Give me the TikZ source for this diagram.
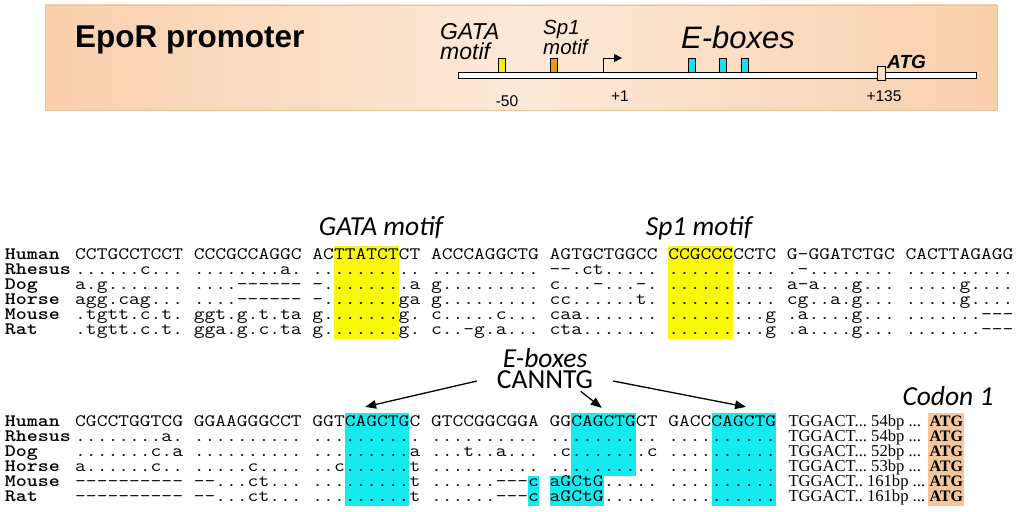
\documentclass[tikz,border=0pt]{standalone}
\usepackage{fontspec}
\usepackage{graphicx}
\usepackage{tikz}
\usetikzlibrary{positioning,calc,fit,backgrounds,arrows.meta}

\newfontfamily\arialfont{Liberation Sans}
\newfontfamily\calibrifont{Carlito}
\newfontfamily\timesfont{Liberation Serif}

\definecolor{boxEdge}{RGB}{238,192,152}
\definecolor{boxPeach}{RGB}{249,208,172}
\definecolor{boxLight}{RGB}{253,233,216}
\definecolor{markYellow}{RGB}{245,240,0}
\definecolor{markOrange}{RGB}{236,152,24}
\definecolor{markCyan}{RGB}{25,225,235}
\definecolor{markAtg}{RGB}{248,222,196}
\definecolor{hlYellow}{RGB}{252,248,10}
\definecolor{hlCyan}{RGB}{20,235,240}
\definecolor{hlCodon}{RGB}{245,198,155}

\newcommand{\seqfont}{\fontsize{17.45}{18}\selectfont\ttfamily\frenchspacing}
\newcommand{\wide}[1]{\scalebox{1.2}[1]{#1}}

\tikzstyle{seqrow}=[inner sep=0, text height=10.7pt, text depth=4pt, font=\seqfont]
\tikzstyle{species}=[inner sep=0, text height=10.7pt, text depth=4pt, text width=70pt, align=left, font=\seqfont\bfseries]
\tikzstyle{tailtext}=[inner sep=0, text height=10.7pt, text depth=4pt, font=\timesfont\fontsize{16.6}{17}\selectfont\frenchspacing]
\tikzstyle{codon}=[inner sep=0, text height=10.7pt, text depth=4pt, font=\timesfont\bfseries\fontsize{16}{16}\selectfont]
\tikzstyle{hlbox}=[inner sep=0, draw=none]
\tikzstyle{marker}=[draw, line width=0.6pt, inner sep=0, minimum width=7pt, minimum height=14pt, anchor=south]
\tikzstyle{motiflabel}=[inner sep=0, font=\calibrifont\itshape\fontsize{27.5}{21}\selectfont]
\tikzstyle{maplabel}=[inner sep=0, anchor=base, font=\arialfont\fontsize{15.5}{16}\selectfont]
\tikzstyle{eboxarrow}=[line width=1.3pt, -{Triangle[length=11pt,width=8.5pt]}]

\begin{document}
\begin{tikzpicture}[x=1pt, y=-1pt, node distance=0pt]
	\useasboundingbox (0,0) rectangle (1024,511);

	%%% header, promoter map
	\node[draw=boxEdge, line width=0.8pt, left color=boxPeach, right color=boxPeach, middle color=boxLight,
		minimum width=952pt, minimum height=105pt] (promoterBox) at (521,57.5) {};
	\node[anchor=base west, inner sep=0, font=\arialfont\bfseries\fontsize{31.5}{32}\selectfont] (promTitle) at (75,48) {EpoR promoter};

	\node[draw, fill=white, line width=0.7pt, inner sep=0, minimum width=518pt, minimum height=6pt] (promBar) at (717,75.5) {};

	\node[marker, fill=markYellow] (gataMark) at (501.5,72.5) {};
	\node[marker, fill=markOrange] (sp1Mark) at (553.5,72.5) {};
	\node[marker, fill=markCyan] (eboxMarkA) at (691.5,72.5) {};
	\node[marker, fill=markCyan] (eboxMarkB) at (722.5,72.5) {};
	\node[marker, fill=markCyan] (eboxMarkC) at (744.5,72.5) {};
	\node[draw, fill=markAtg, line width=0.6pt, inner sep=0, minimum width=8pt, minimum height=14pt] (atgMark) at (881,73) {};

	% transcription start
	\coordinate (tssFoot) at (603,72.5);
	\coordinate (tssTip) at (622,58);
	\draw[line width=0.8pt, -{Triangle[length=8pt,width=8pt]}] (tssFoot) |- (tssTip);

	\node[anchor=north west, inner sep=0, align=left, font=\arialfont\itshape\fontsize{23}{20}\selectfont] (gataMapLabel) at (440,23) {GATA\\motif};
	\node[anchor=north west, inner sep=0, align=left, font=\arialfont\itshape\fontsize{20.5}{18}\selectfont] (sp1MapLabel) at (543,20) {Sp1\\motif};
	\node[inner sep=0, font=\arialfont\itshape\fontsize{31}{31}\selectfont] (eboxMapLabel) at (738,37) {E-boxes};
	\node[anchor=base west, inner sep=0, font=\arialfont\bfseries\itshape\fontsize{19}{19}\selectfont] (atgMapLabel) at (887,68) {ATG};

	\node[maplabel] (posMinus50) at (507,106.5) {-50};
	\node[maplabel] (posPlus1) at (620,101.5) {+1};
	\node[maplabel] (posPlus135) at (884,101.5) {+135};

	%%% first alignment block
	\node[motiflabel, anchor=base] (gataLabel) at (381,235) {GATA motif};
	\node[motiflabel, anchor=base] (sp1Label) at (699,235) {Sp1 motif};

	\node[seqrow, anchor=base west] (humanUp) at (75,259) {\wide{CCTGCCTCCT CCCGCCAGGC ACTTATCTCT ACCCAGGCTG AGTGCTGGCC CCGCCCCCTC G-GGATCTGC CACTTAGAGG}};
	\node[seqrow, below=of humanUp] (rhesusUp) {\wide{......c... ........a. .......... .......... -{}-.ct..... .......... .-........ ..........}};
	\node[seqrow, below=of rhesusUp] (dogUp) {\wide{a.g....... ....-{}-{}-{}-{}-{}- -........a g......... c...-...-. .......... a-a...g... .....g....}};
	\node[seqrow, below=of dogUp] (horseUp) {\wide{agg.cag... ....-{}-{}-{}-{}-{}- -.......ga g......... cc......t. .......... cg..a.g... .....g....}};
	\node[seqrow, below=of horseUp] (mouseUp) {\wide{.tgtt.c.t. ggt.g.t.ta g.......g. c.....c... caa....... .........g .a....g... .......-{}-{}-}};
	\node[seqrow, below=of mouseUp] (ratUp) {\wide{.tgtt.c.t. gga.g.c.ta g.......g. c..-g.a... cta....... .........g .a....g... .......-{}-{}-}};

	\node[species, left=of humanUp] (humanUpName) {\wide{Human}};
	\node[species, left=of rhesusUp] (rhesusUpName) {\wide{Rhesus}};
	\node[species, left=of dogUp] (dogUpName) {\wide{Dog}};
	\node[species, left=of horseUp] (horseUpName) {\wide{Horse}};
	\node[species, left=of mouseUp] (mouseUpName) {\wide{Mouse}};
	\node[species, left=of ratUp] (ratUpName) {\wide{Rat}};

	%%% second alignment block
	\node[seqrow, anchor=base west] (humanLow) at (75,426) {\wide{CGCCTGGTCG GGAAGGGCCT GGTCAGCTGC GTCCGGCGGA GGCAGCTGCT GACCCAGCTG}};
	\node[seqrow, below=of humanLow] (rhesusLow) {\wide{........a. .......... .......... .......... .......... ..........}};
	\node[seqrow, below=of rhesusLow] (dogLow) {\wide{.......c.a .......... .........a ...t..a... .c.......c ..........}};
	\node[seqrow, below=of dogLow] (horseLow) {\wide{a......c.. .....c.... ..c......t .......... .......... ..........}};
	\node[seqrow, below=of horseLow] (mouseLow) {\wide{-{}-{}-{}-{}-{}-{}-{}-{}-{}- -{}-...ct... .........t ......-{}-{}-c aGCtG..... ..........}};
	\node[seqrow, below=of mouseLow] (ratLow) {\wide{-{}-{}-{}-{}-{}-{}-{}-{}-{}- -{}-...ct... .........t ......-{}-{}-c aGCtG..... ..........}};

	\node[species, left=of humanLow] (humanLowName) {\wide{Human}};
	\node[species, left=of rhesusLow] (rhesusLowName) {\wide{Rhesus}};
	\node[species, left=of dogLow] (dogLowName) {\wide{Dog}};
	\node[species, left=of horseLow] (horseLowName) {\wide{Horse}};
	\node[species, left=of mouseLow] (mouseLowName) {\wide{Mouse}};
	\node[species, left=of ratLow] (ratLowName) {\wide{Rat}};

	% tail up to the start codon
	\node[tailtext, right=12pt of humanLow] (humanTail) {TGGACT... 54bp ...};
	\node[tailtext, right=12pt of rhesusLow] (rhesusTail) {TGGACT... 54bp ...};
	\node[tailtext, right=12pt of dogLow] (dogTail) {TGGACT... 52bp ...};
	\node[tailtext, right=12pt of horseLow] (horseTail) {TGGACT... 53bp ...};
	\node[tailtext, right=12pt of mouseLow] (mouseTail) {TGGACT.. 161bp ...};
	\node[tailtext, right=12pt of ratLow] (ratTail) {TGGACT.. 161bp ...};

	\node[codon, right=153pt of humanLow] (atgHuman) {ATG};
	\node[codon, right=153pt of rhesusLow] (atgRhesus) {ATG};
	\node[codon, right=153pt of dogLow] (atgDog) {ATG};
	\node[codon, right=153pt of horseLow] (atgHorse) {ATG};
	\node[codon, right=153pt of mouseLow] (atgMouse) {ATG};
	\node[codon, right=153pt of ratLow] (atgRat) {ATG};

	\node[motiflabel, anchor=base] (codonLabel) at (948,405) {Codon 1};

	%%% highlighted columns (fractions of the row width: 87 and 65 characters)
	\coordinate (gataTL) at ($(humanUp.north west)!24/87!(humanUp.north east)+(0,-2)$);
	\coordinate (gataBR) at ($(ratUp.south west)!30/87!(ratUp.south east)+(0,0.5)$);
	\coordinate (sp1TL) at ($(humanUp.north west)!55/87!(humanUp.north east)+(0,-2)$);
	\coordinate (sp1BR) at ($(ratUp.south west)!61/87!(ratUp.south east)+(0,0.5)$);

	\coordinate (cyanATL) at ($(humanLow.north west)!25/65!(humanLow.north east)+(0,-2)$);
	\coordinate (cyanABR) at ($(ratLow.south west)!31/65!(ratLow.south east)+(0,0.5)$);
	\coordinate (cyanBTL) at ($(humanLow.north west)!46/65!(humanLow.north east)+(0,-2)$);
	\coordinate (cyanBBR) at ($(horseLow.south west)!52/65!(horseLow.south east)$);
	\coordinate (cyanBlowTL) at ($(mouseLow.north west)!44/65!(mouseLow.north east)$);
	\coordinate (cyanBlowBR) at ($(ratLow.south west)!49/65!(ratLow.south east)+(0,0.5)$);
	\coordinate (cyanBcTL) at ($(mouseLow.north west)!42/65!(mouseLow.north east)$);
	\coordinate (cyanBcBR) at ($(ratLow.south west)!43/65!(ratLow.south east)+(0,0.5)$);
	\coordinate (cyanCTL) at ($(humanLow.north west)!59/65!(humanLow.north east)+(0,-2)$);
	\coordinate (cyanCBR) at ($(ratLow.south east)+(0,0.5)$);

	\coordinate (codonTL) at ($(atgHuman.north west)+(-1,-2)$);
	\coordinate (codonBR) at ($(atgRat.south east)+(1,0.5)$);

	\begin{scope}[on background layer]
		\node[hlbox, fill=hlYellow, fit=(gataTL)(gataBR)] (gataHl) {};
		\node[hlbox, fill=hlYellow, fit=(sp1TL)(sp1BR)] (sp1Hl) {};
		\node[hlbox, fill=hlCyan, fit=(cyanATL)(cyanABR)] (cyanA) {};
		\node[hlbox, fill=hlCyan, fit=(cyanBTL)(cyanBBR)] (cyanB) {};
		\node[hlbox, fill=hlCyan, fit=(cyanBlowTL)(cyanBlowBR)] (cyanBlow) {};
		\node[hlbox, fill=hlCyan, fit=(cyanBcTL)(cyanBcBR)] (cyanBc) {};
		\node[hlbox, fill=hlCyan, fit=(cyanCTL)(cyanCBR)] (cyanC) {};
		\node[hlbox, fill=hlCodon, fit=(codonTL)(codonBR)] (codonHl) {};
	\end{scope}

	%%% E-box pointers
	\node[motiflabel, align=center, inner xsep=20pt, inner ysep=2pt] (eboxLabel) at (545,369) {E-boxes\\\upshape CANNTG};

	\draw[eboxarrow] (eboxLabel.-170) -- ($(cyanA.north)+(-12,-6)$);
	\draw[eboxarrow] (eboxLabel.-32) -- ($(cyanB.north)+(-2,-5)$);
	\draw[eboxarrow] (eboxLabel.-10) -- ($(cyanC.north)+(2,-6)$);
\end{tikzpicture}
\end{document}
